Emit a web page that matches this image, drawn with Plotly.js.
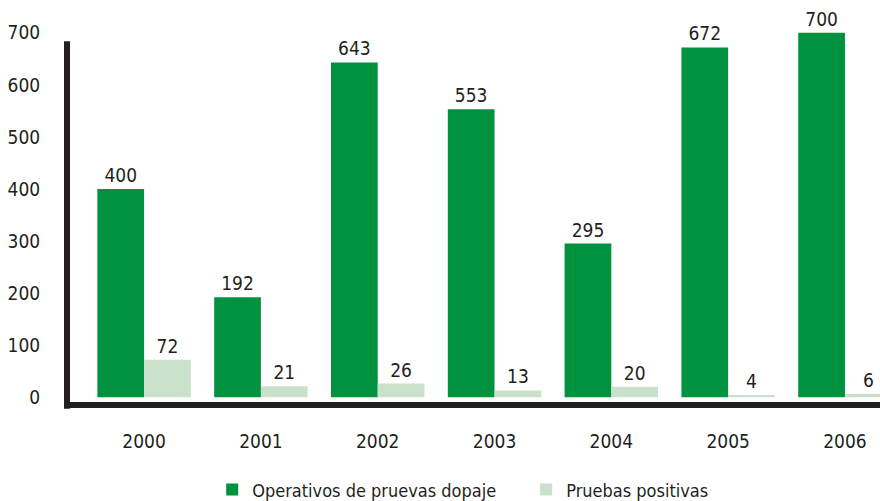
<!DOCTYPE html>
<html>
<head>
<meta charset="utf-8">
<script src="https://cdn.plot.ly/plotly-3.0.1.min.js"></script>
<style>html,body{margin:0;padding:0;background:#fff;}#chart{width:880px;height:501px;}</style>
</head>
<body>
<div id="chart"></div>
<script>
const years = ['2000','2001','2002','2003','2004','2005','2006'];
const operativos = [400, 192, 643, 553, 295, 672, 700];
const positivas = [72, 21, 26, 13, 20, 4, 6];
const seriesNames = ['Operativos de pruevas dopaje', 'Pruebas positivas'];
const yTicks = [0, 100, 200, 300, 400, 500, 600, 700];

const FONT = '"Liberation Sans Narrow", "DejaVu Sans Condensed", Arial, sans-serif';
const INK = '#231F20';

const traces = [
  {type:'bar', name: seriesNames[0], x: years, y: operativos,
   marker:{color:'#00923F'}, text: operativos.map(String), textposition:'outside',
   textfont:{family:FONT, size:19, color:INK}, cliponaxis:false, hoverinfo:'none'},
  {type:'bar', name: seriesNames[1], x: years, y: positivas,
   marker:{color:'#C9E0CB'}, text: positivas.map(String), textposition:'outside',
   textfont:{family:FONT, size:19, color:INK}, cliponaxis:false, hoverinfo:'none'}
];

const layout = {
  width: 880, height: 501,
  margin: {l:67, r:0, t:12, b:95, autoexpand:false},
  paper_bgcolor:'#fff', plot_bgcolor:'#fff',
  barmode:'group', bargap:0.2, bargroupgap:0,
  font:{family:FONT, color:INK},
  xaxis:{type:'category', range:[-0.66, 6.30], showgrid:false, zeroline:false, showline:false,
         ticks:'outside', ticklen:18, tickcolor:'rgba(0,0,0,0)', automargin:false,
         tickfont:{family:FONT, size:19, color:INK}},
  yaxis:{range:[-17, 740], tickvals:yTicks, showgrid:false, zeroline:false, showline:false,
         ticks:'outside', ticklen:22, tickcolor:'rgba(0,0,0,0)', automargin:false,
         tickfont:{family:FONT, size:19, color:INK}},
  shapes:[
    {type:'line', xref:'paper', yref:'paper', x0:0, x1:1, y0:0.0025, y1:0.0025,
     line:{color:INK, width:6}},
    {type:'line', xref:'paper', yref:'paper', x0:0, x1:0, y0:-0.007, y1:0.926,
     line:{color:INK, width:6}}
  ],
  legend:{orientation:'h', x:0.1786, xanchor:'left', y:-0.213, yanchor:'middle',
          font:{family:FONT, size:18, color:INK}, traceorder:'normal', itemwidth:30,
          entrywidth:269, entrywidthmode:'pixels'},
  showlegend:true
};

Plotly.newPlot('chart', traces, layout, {displayModeBar:false, staticPlot:true});
</script>
</body>
</html>
